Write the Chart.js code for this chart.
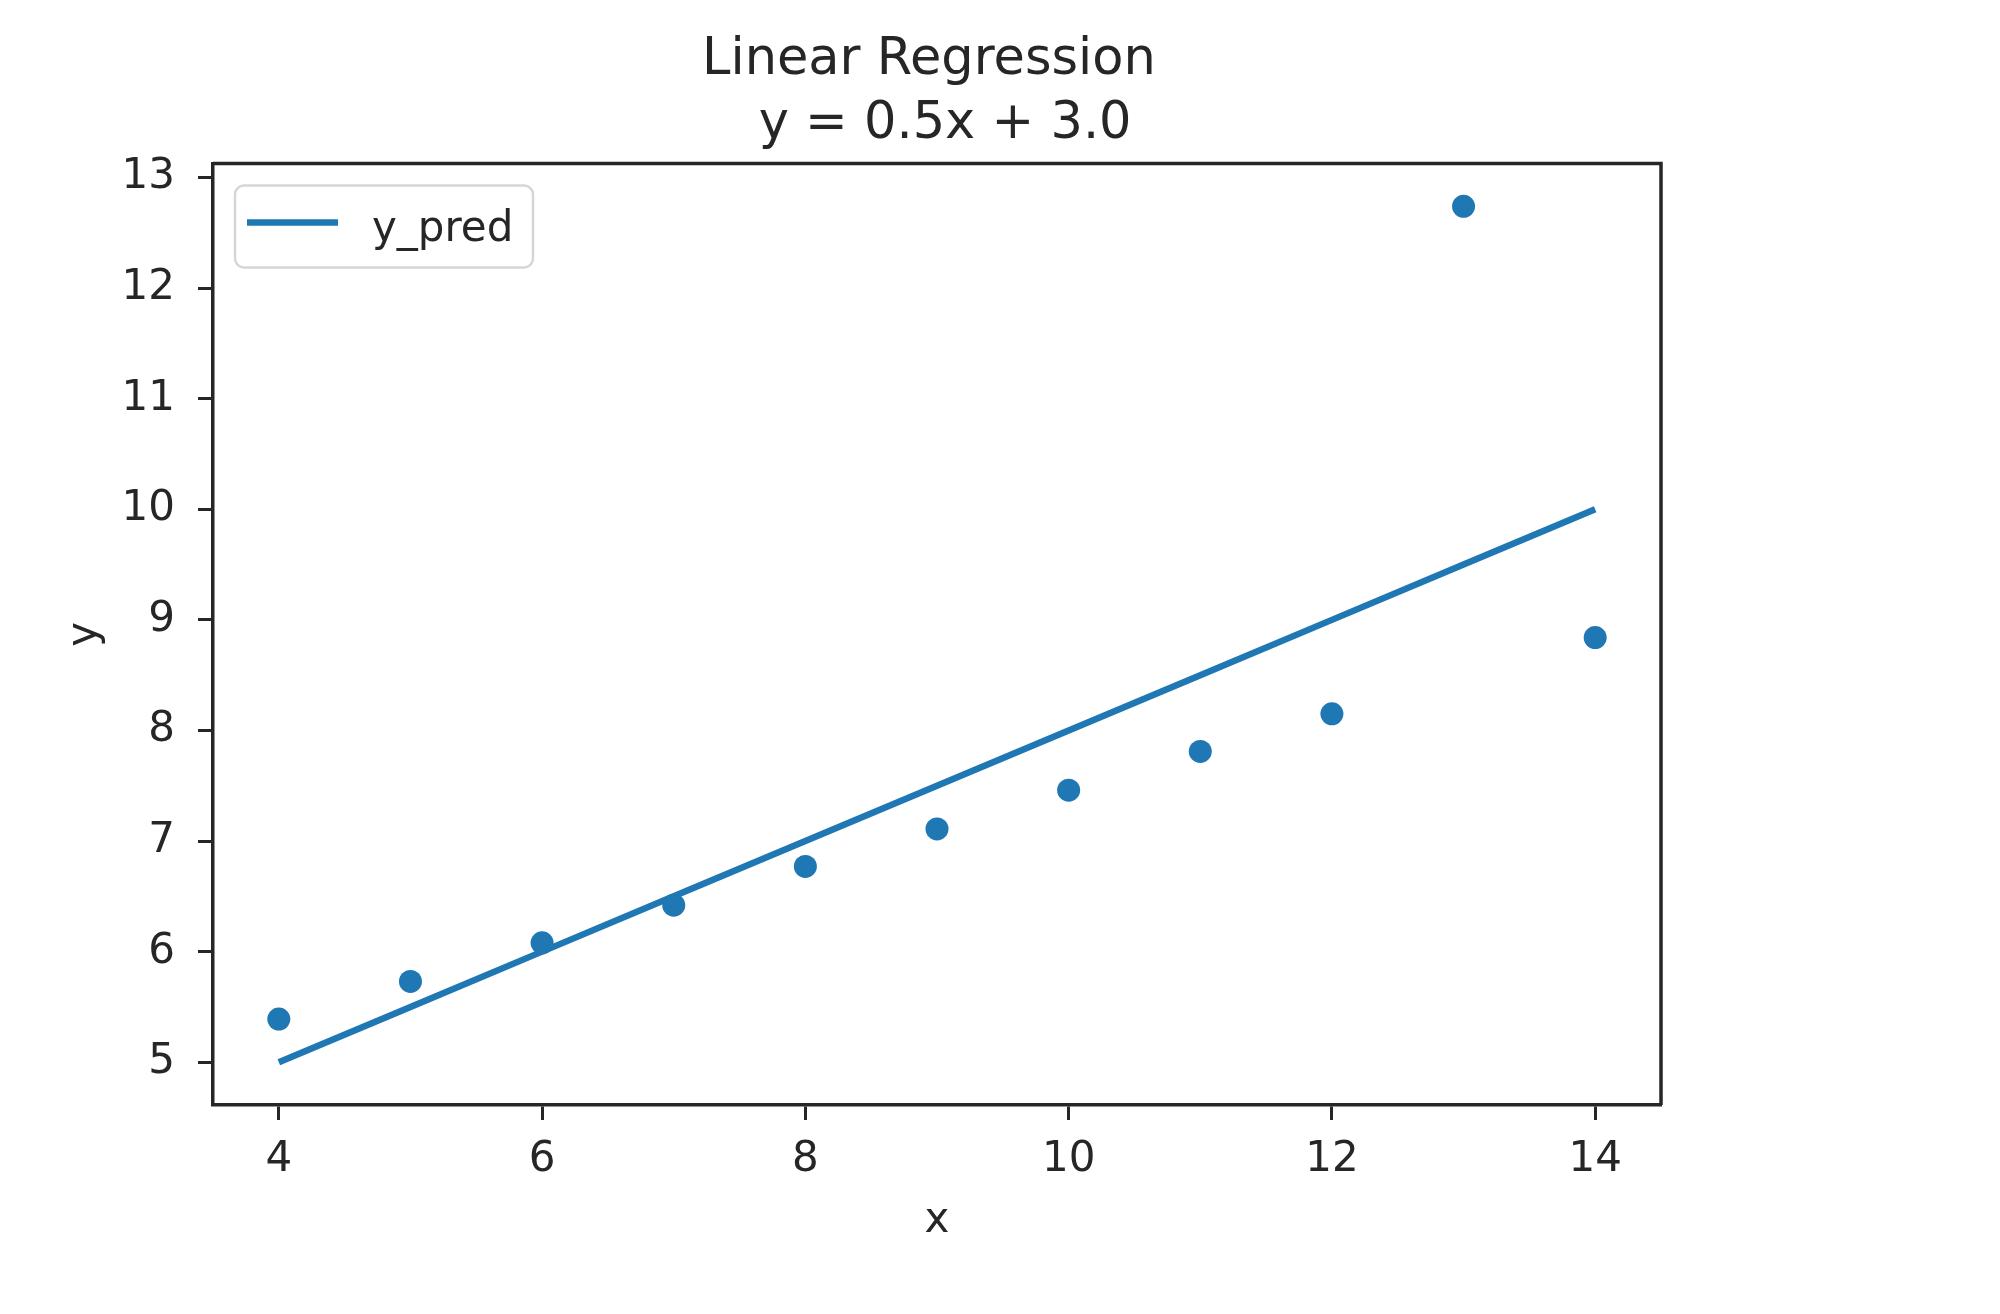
<!DOCTYPE html>
<html>
<head>
<meta charset="utf-8">
<script src="https://cdn.jsdelivr.net/npm/chart.js@4.4.1/dist/chart.umd.min.js"></script>
<style>
  html, body { margin: 0; padding: 0; background: #ffffff; }
  #wrap { width: 2000px; height: 1314px; }
</style>
</head>
<body>
<div id="wrap"><canvas id="c" width="2000" height="1314"></canvas></div>
<script>
// ---- data ----
const titleLines = ["Linear Regression ", " y = 0.5x + 3.0"];
const xLabel = "x";
const yLabel = "y";
const seriesName = "y_pred";
const xValues = [4, 5, 6, 7, 8, 9, 10, 11, 12, 13, 14];
const yObserved = [5.39, 5.73, 6.08, 6.42, 6.77, 7.11, 7.46, 7.81, 8.15, 12.74, 8.84];
const yPredicted = [5.0, 5.5, 6.0, 6.5, 7.0, 7.5, 8.0, 8.5, 9.0, 9.5, 10.0];
const xTicks = [4, 6, 8, 10, 12, 14];
const yTicks = [5, 6, 7, 8, 9, 10, 11, 12, 13];
const xRange = [3.5, 14.5];
const yRange = [4.613, 13.127];

const BLUE = '#1f77b4';
const INK = '#262626';
const FONT = "'DejaVu Sans', sans-serif";

const scatterPts = xValues.map((x, i) => ({x: x, y: yObserved[i]}));
const linePts = xValues.map((x, i) => ({x: x, y: yPredicted[i]}));

const legendInside = {
  id: 'legendInside',
  afterDatasetsDraw(chart) {
    const ctx = chart.ctx;
    const a = chart.chartArea;
    const ds = chart.data.datasets[1];
    const bx = a.left + 22, by = a.top + 22, bw = 298, bh = 82;
    ctx.save();
    ctx.beginPath();
    ctx.roundRect(bx, by, bw, bh, 9);
    ctx.fillStyle = 'rgba(255,255,255,0.8)';
    ctx.fill();
    ctx.lineWidth = 2.5;
    ctx.strokeStyle = '#d6d6d6';
    ctx.stroke();
    ctx.beginPath();
    ctx.moveTo(bx + 12, by + 37);
    ctx.lineTo(bx + 103, by + 37);
    ctx.lineWidth = ds.borderWidth;
    ctx.strokeStyle = ds.borderColor;
    ctx.stroke();
    ctx.fillStyle = INK;
    ctx.font = "42px " + FONT;
    ctx.textBaseline = 'middle';
    ctx.textAlign = 'left';
    ctx.fillText(ds.label, bx + 137, by + 45);
    ctx.restore();
  }
};

new Chart(document.getElementById('c'), {
  type: 'scatter',
  data: {
    datasets: [
      {
        type: 'scatter',
        label: 'y',
        data: scatterPts,
        backgroundColor: BLUE,
        borderWidth: 0,
        pointRadius: 11.5,
        pointHoverRadius: 11.5
      },
      {
        type: 'line',
        label: seriesName,
        data: linePts,
        borderColor: BLUE,
        borderWidth: 6.5,
        pointRadius: 0,
        fill: false,
        tension: 0
      }
    ]
  },
  options: {
    responsive: false,
    animation: false,
    devicePixelRatio: 1,
    layout: { padding: { left: 0, right: 339, top: 0, bottom: 0 } },
    plugins: {
      legend: { display: false },
      tooltip: { enabled: false },
      title: {
        display: true,
        fullSize: false,
        text: titleLines,
        color: INK,
        font: { family: FONT, size: 51, weight: 'normal', lineHeight: 1.25 },
        padding: { top: 29, bottom: 7 }
      }
    },
    scales: {
      x: {
        type: 'linear',
        min: xRange[0],
        max: xRange[1],
        afterBuildTicks: (s) => { s.ticks = xTicks.map(v => ({value: v})); },
        afterFit: (s) => { s.height = 209; },
        grid: { drawOnChartArea: false, drawTicks: true, tickLength: 15, tickColor: INK, tickWidth: 3 },
        border: { display: true, color: INK, width: 3.5 },
        ticks: { color: INK, padding: 15, font: { family: FONT, size: 42, lineHeight: 1.2 }, maxRotation: 0, autoSkip: false },
        title: { display: true, text: xLabel, color: INK, padding: { top: 0, bottom: 68 }, font: { family: FONT, size: 42, lineHeight: 1.2 } }
      },
      y: {
        type: 'linear',
        min: yRange[0],
        max: yRange[1],
        afterBuildTicks: (s) => { s.ticks = yTicks.map(v => ({value: v})); },
        afterFit: (s) => { s.width = 213; },
        grid: { drawOnChartArea: false, drawTicks: true, tickLength: 15, tickColor: INK, tickWidth: 3 },
        border: { display: true, color: INK, width: 3.5 },
        ticks: { color: INK, padding: 23, font: { family: FONT, size: 42, lineHeight: 1.2 }, autoSkip: false },
        title: { display: true, text: yLabel, color: INK, padding: { top: 60, bottom: 0 }, font: { family: FONT, size: 42, lineHeight: 1.2 } }
      }
    }
  },
  plugins: [legendInside, {
    id: 'frame',
    afterDatasetsDraw(chart) {
      const ctx = chart.ctx, a = chart.chartArea;
      ctx.save();
      ctx.strokeStyle = INK;
      ctx.lineWidth = 3.5;
      ctx.beginPath();
      ctx.moveTo(a.left, a.top);
      ctx.lineTo(a.right, a.top);
      ctx.lineTo(a.right, a.bottom);
      ctx.stroke();
      ctx.restore();
    }
  }]
});
</script>
</body>
</html>
